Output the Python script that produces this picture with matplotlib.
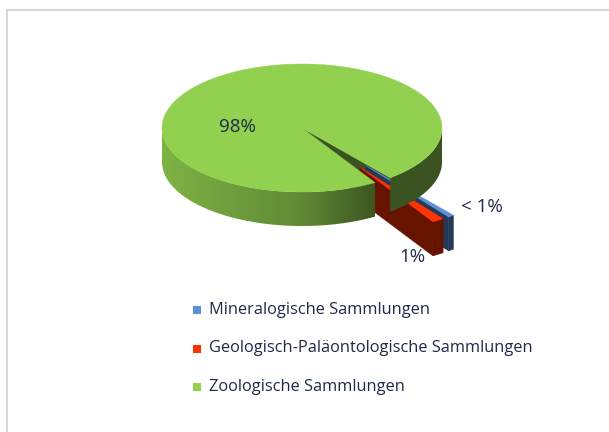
import numpy as np
import matplotlib
matplotlib.use('Agg')
import matplotlib.pyplot as plt
from matplotlib.patches import Polygon, Rectangle

# --- data ---
categories = ['Mineralogische Sammlungen',
              'Geologisch-Paläontologische Sammlungen',
              'Zoologische Sammlungen']
shares = [0.7, 1.4, 97.9]
pct_labels = ['< 1%', '1%', '98%']
top_colors = ['#5B8FD6', '#FF3300', '#92D050']
explode = [0.74, 0.74, 0.0]

# --- layout (pixels) ---
W, H = 609, 432
CX, CY, RX, RY, DEPTH = 302, 128, 140, 64, 34
START = -51.0          # first slice starts here, slices run clockwise
label_xy = [(482, 207), (412, 257), (237, 127)]
TEXT_COLOR = '#1E2A48'
FONT = ['Open Sans', 'DejaVu Sans']

fig = plt.figure(figsize=(W / 100, H / 100), dpi=100)
ax = fig.add_axes([0, 0, 1, 1])


def pt(t, r=1.0, off=(0, 0), z=0):
    a = np.radians(t)
    return (CX + off[0] + RX * r * np.cos(a),
            CY + off[1] - RY * r * np.sin(a) + z)


def shade_factor(c):
    # darker towards the right hand side
    return np.interp(c, [-1, 0, 0.55, 1], [0.86, 0.66, 0.40, 0.40])


def dark(color, f=0.40):
    return tuple(np.array(matplotlib.colors.to_rgb(color)) * f)


def face(t, off, color, zorder):
    poly = [pt(0, 0, off), pt(t, 1, off), pt(t, 1, off, DEPTH), pt(0, 0, off, DEPTH)]
    ax.add_patch(Polygon(poly, closed=True, facecolor=color, edgecolor=color,
                         lw=0.3, zorder=zorder))


def front_ranges(t_lo, t_hi):
    # parts of [t_lo, t_hi] lying on the front half (sin < 0)
    out = []
    k0 = int(np.floor(t_lo / 360)) - 1
    for k in range(k0, k0 + 4):
        a, b = max(t_lo, -180 + 360 * k), min(t_hi, 360 * k)
        if b > a:
            out.append((a, b))
    return out


def wall(t_lo, t_hi, off, color, zorder, gradient=True):
    rgb = np.array(matplotlib.colors.to_rgb(color))
    for a, b in front_ranges(t_lo, t_hi):
        ts = np.linspace(a, b, max(int((b - a) * 2), 2) + 1)
        poly = [pt(t, 1, off) for t in ts] + [pt(t, 1, off, DEPTH) for t in ts[::-1]]
        if not gradient:
            c = rgb * shade_factor(np.cos(np.radians((a + b) / 2)))
            ax.add_patch(Polygon(poly, closed=True, facecolor=c, edgecolor=c,
                                 lw=0.3, zorder=zorder))
            continue
        patch = Polygon(poly, closed=True, facecolor='none', edgecolor='none')
        ax.add_patch(patch)
        xs = np.linspace(-1, 1, 400)
        img = (rgb[None, :] * shade_factor(xs)[:, None])[None, :, :]
        x0 = CX + off[0]
        im = ax.imshow(img, extent=(x0 - RX, x0 + RX, CY + RY + DEPTH + 5, CY - RY - 5),
                       aspect='auto', interpolation='bilinear', zorder=zorder)
        im.set_clip_path(patch)


def top(t_lo, t_hi, off, color, zorder):
    ts = np.linspace(t_lo, t_hi, max(int((t_hi - t_lo) * 2), 2) + 1)
    poly = [pt(0, 0, off)] + [pt(t, 1, off) for t in ts]
    ax.add_patch(Polygon(poly, closed=True, facecolor=color, edgecolor=color,
                         lw=0.3, zorder=zorder))


# slice angle ranges (clockwise from START)
slices = []
t_hi = START
for s, e in zip(shares, explode):
    t_lo = t_hi - s * 3.6
    mid = np.radians((t_lo + t_hi) / 2)
    off = (e * RX * np.cos(mid), -e * RY * np.sin(mid))
    slices.append((t_lo, t_hi, off))
    t_hi = t_lo

# green (big) slice: visible cut face first, later its wall and top
g_lo, g_hi, g_off = slices[2]
face(g_lo, g_off, dark(top_colors[2]), 1)

# exploded small slices
for i in (0, 1):
    t_lo, t_hi, off = slices[i]
    wall(t_lo, t_hi, off, top_colors[i], 2 + i, gradient=False)
    face(t_lo, off, dark(top_colors[i]), 2 + i)
    top(t_lo, t_hi, off, top_colors[i], 2 + i)

wall(g_lo, g_hi, g_off, top_colors[2], 5)
top(g_lo, g_hi, g_off, top_colors[2], 6)

# percentage labels
for (x, y), lab in zip(label_xy, pct_labels):
    ax.text(x, y, lab, ha='center', va='center', fontsize=13.5,
            color=TEXT_COLOR, family=FONT, zorder=10)

# legend
leg_x, leg_y0, leg_dy = 193, 310, 38.5
for i, (cat, col) in enumerate(zip(categories, top_colors)):
    y = leg_y0 + i * leg_dy
    ax.add_patch(Rectangle((leg_x, y - 4), 8, 8, facecolor=col, edgecolor='none', zorder=10))
    ax.text(leg_x + 16, y, cat, ha='left', va='center', fontsize=11.8,
            color=TEXT_COLOR, family=FONT, zorder=10)

# chart frame (cropped at right and bottom)
ax.plot([7, 7], [H, 10], color='#D9D9D9', lw=1.5, zorder=0)
ax.plot([7, W], [10, 10], color='#D9D9D9', lw=1.5, zorder=0)

ax.set_xlim(0, W)
ax.set_ylim(H, 0)
ax.axis('off')

fig.savefig('out.png', dpi=100)
